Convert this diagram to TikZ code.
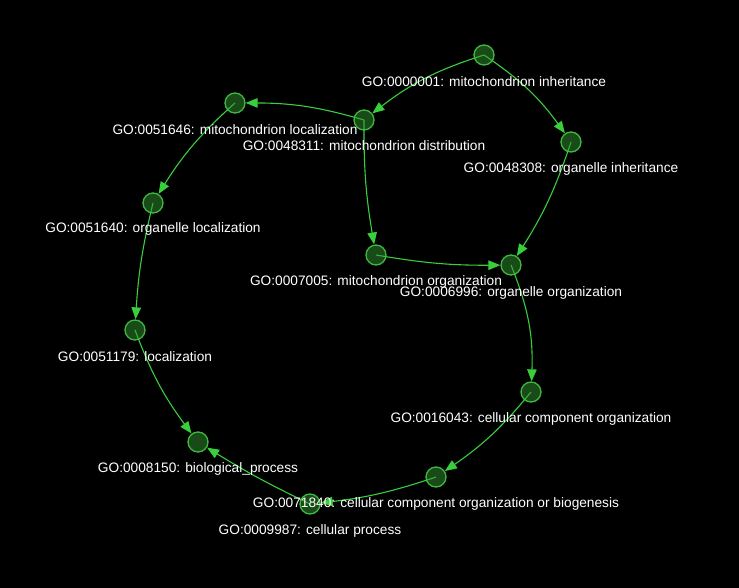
\documentclass[tikz,border=0pt]{standalone}
\usepackage{fontspec}
\setmainfont{Liberation Sans}
\usetikzlibrary{arrows.meta}
\definecolor{edgecol}{RGB}{56,206,60}
\definecolor{nodefill}{RGB}{50,150,50}
\definecolor{nodeline}{RGB}{70,200,70}
\pgfdeclarelayer{bg}
\pgfdeclarelayer{edges}
\pgfsetlayers{bg,edges,main}
\tikzset{
  gonode/.style={circle,minimum size=20pt,inner sep=0pt,draw=nodeline,line width=1.3pt,fill=nodefill,fill opacity=0.5,draw opacity=0.9},
  golabel/.style={text=white,font=\fontsize{13.7pt}{16pt}\selectfont,inner sep=0pt},
  goedge/.style={draw=edgecol,line width=1.1pt,-{Triangle[length=12pt,width=9.5pt]}}
}
\begin{document}
\begin{tikzpicture}[x=1pt,y=-1pt]
\begin{pgfonlayer}{bg}
\fill[black] (0,0) rectangle (739,588);
\end{pgfonlayer}
\useasboundingbox (0,0) rectangle (739,588);
% nodes
\node[gonode] (n1) at (484,55) {};
\node[gonode] (n2) at (364,120) {};
\node[gonode] (n3) at (571,142) {};
\node[gonode] (n4) at (235,103) {};
\node[gonode] (n5) at (153,203) {};
\node[gonode] (n6) at (376,255) {};
\node[gonode] (n7) at (511,265) {};
\node[gonode] (n8) at (135,330) {};
\node[gonode] (n9) at (531,392) {};
\node[gonode] (n10) at (198,442) {};
\node[gonode] (n11) at (436,477) {};
\node[gonode] (n12) at (310,504) {};
% labels
\node[golabel] (l1) at (484,82) {GO:0000001: mitochondrion inheritance};
\node[golabel] (l2) at (364,146) {GO:0048311: mitochondrion distribution};
\node[golabel] (l3) at (571,169) {GO:0048308: organelle inheritance};
\node[golabel] (l4) at (235,130) {GO:0051646: mitochondrion localization};
\node[golabel] (l5) at (153,229) {GO:0051640: organelle localization};
\node[golabel] (l6) at (376,282) {GO:0007005: mitochondrion organization};
\node[golabel] (l7) at (511,293) {GO:0006996: organelle organization};
\node[golabel] (l8) at (135,357) {GO:0051179: localization};
\node[golabel] (l9) at (531,419) {GO:0016043: cellular component organization};
\node[golabel] (l10) at (198,469) {GO:0008150: biological\_process};
\node[golabel] (l11) at (436,504) {GO:0071840: cellular component organization or biogenesis};
\node[golabel] (l12) at (310,531) {GO:0009987: cellular process};
% edges
\begin{pgfonlayer}{edges}
\draw[goedge] (n1.center) to[bend right=10] (n2);
\draw[goedge] (n1.center) to[bend left=10] (n3);
\draw[goedge] (n2.center) to[bend right=8] (n4);
\draw[goedge] (n2.center) to[bend right=5] (n6);
\draw[goedge] (n3.center) to[bend left=7] (n7);
\draw[goedge] (n4.center) to[bend right=8] (n5);
\draw[goedge] (n5.center) to[bend right=5] (n8);
\draw[goedge] (n6.center) to[bend right=5] (n7);
\draw[goedge] (n7.center) to[bend left=12] (n9);
\draw[goedge] (n8.center) to[bend right=8] (n10);
\draw[goedge] (n9.center) to[bend left=8] (n11);
\draw[goedge] (n11.center) to[bend left=6] (n12);
\draw[goedge] (n12.center) to[bend left=3] (n10);
\end{pgfonlayer}
\end{tikzpicture}
\end{document}
